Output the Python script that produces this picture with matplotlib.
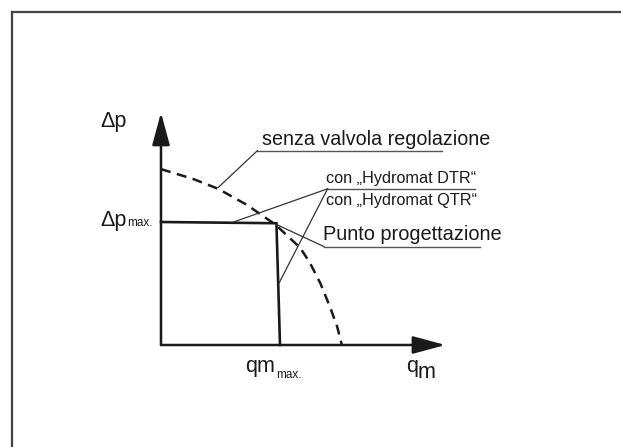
"""Pump curve schematic: pressure difference vs mass flow, with and without Hydromat."""

import matplotlib
matplotlib.use("Agg")
import matplotlib.pyplot as plt
from matplotlib import font_manager
from matplotlib.lines import Line2D

# the original lettering is a narrow Helvetica; use the narrow Liberation cut when present
try:
    font_manager.findfont("Liberation Sans Narrow", fallback_to_default=False)
    FAMILY, STRETCH = "Liberation Sans Narrow", 1 / 0.86
except ValueError:
    FAMILY, STRETCH = "Liberation Sans", 1.0
plt.rcParams["font.family"] = [FAMILY, "DejaVu Sans"]

# pump curve without control valve (dashed), q_m / qm_max vs dp / dp_max
pump_q = [0.0, 0.27, 0.48, 0.72, 0.96, 1.17, 1.25, 1.34, 1.42, 1.48, 1.52]
pump_dp = [1.43, 1.35, 1.27, 1.14, 0.98, 0.79, 0.67, 0.50, 0.31, 0.15, 0.0]

# characteristic with Hydromat (solid)
ctrl_q = [0.0, 0.97, 1.0]
ctrl_dp = [1.0, 0.99, 0.0]

# axis arrow ends
x_axis_end = 2.39
y_axis_end = 1.89

# callouts: label, text anchor, size, underline (x0, x1, y), leader targets
callouts = [
    ("senza valvola regolazione", (0.85, 1.63), 14.2, (0.81, 2.36, 1.58), [(0.48, 1.28)]),
    ("con \u201eHydromat DTR\u201c", (1.39, 1.32), 11.7, (1.40, 2.64, 1.27), [(0.61, 1.0), (0.99, 0.50)]),
    ("con \u201eHydromat QTR\u201c", (1.39, 1.14), 11.7, None, []),
    ("Punto progettazione", (1.36, 0.85), 14.4, (1.37, 2.68, 0.80), [(0.97, 0.98)]),
]

W, H = 621, 447
ORIGIN = (161, 345)   # pixel position of the axis origin
PX_X, PX_Y = 119, 123  # pixels per unit

INK = "#1a1a1a"

fig = plt.figure(figsize=(W / 100, H / 100), dpi=100)
ax = fig.add_axes([0, 0, 1, 1])
ax.set_xlim(-ORIGIN[0] / PX_X, (W - ORIGIN[0]) / PX_X)
ax.set_ylim(-(H - ORIGIN[1]) / PX_Y, ORIGIN[1] / PX_Y)
ax.axis("off")

# outer frame (top and left edges only visible)
fx, fy = 11.5 / W, 1 - 11.5 / H
fig.add_artist(Line2D([fx, fx], [0, fy], color="#444444", lw=1.6))
fig.add_artist(Line2D([fx, 1], [fy, fy], color="#444444", lw=1.6))

# axes with arrow heads
arrow = dict(arrowstyle="-|>,head_length=1.0,head_width=0.27", mutation_scale=20,
             lw=1.8, color=INK, shrinkA=0, shrinkB=0)
ax.annotate("", xy=(x_axis_end, 0), xytext=(0, 0), arrowprops=arrow)
ax.annotate("", xy=(0, y_axis_end), xytext=(0, 0), arrowprops=arrow)

ax.plot(pump_q, pump_dp, color=INK, lw=1.8, linestyle=(0, (4, 2.6)))
ax.plot(ctrl_q, ctrl_dp, color=INK, lw=1.9, solid_joinstyle="miter")

for label, (tx, ty), size, underline, targets in callouts:
    ax.text(tx, ty, label, fontsize=size * STRETCH, color=INK, ha="left", va="baseline")
    if underline is not None:
        x0, x1, uy = underline
        ax.plot([x0, x1], [uy, uy], color="#555555", lw=1.0)
        for px, py in targets:
            ax.plot([x0, px], [uy, py], color="#333333", lw=0.9)

# axis labels (Liberation Sans keeps the delta and single letters wide enough)
lab = dict(color=INK, ha="left", va="baseline", family=["Liberation Sans", "DejaVu Sans"])
ax.text(-0.51, 1.77, "\u0394p", fontsize=15.5, **lab)
ax.text(-0.51, 0.97, "\u0394p", fontsize=15.5, **lab)
ax.text(-0.285, 0.97, "max.", fontsize=8.5, **lab)
ax.text(0.71, -0.22, "qm", fontsize=15.5, **lab)
ax.text(0.97, -0.27, "max.", fontsize=8.5, **lab)
ax.text(2.06, -0.22, "q", fontsize=15.5, **lab)
ax.text(2.16, -0.27, "m", fontsize=15.5, **lab)

fig.savefig("out.png", dpi=100, facecolor="white")
plt.close(fig)
